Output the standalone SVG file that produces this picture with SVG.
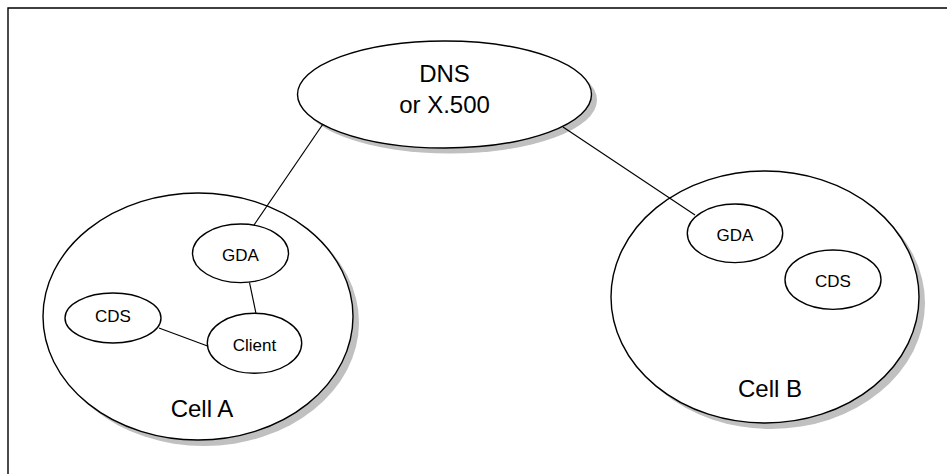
<svg xmlns="http://www.w3.org/2000/svg" width="947" height="474" viewBox="0 0 947 474">
<style>
.shadow{fill:#c0c0c0;stroke:none}
.big{fill:#fff;stroke:#000;stroke-width:1.4}
.small{fill:#fff;stroke:#000;stroke-width:1.4}
.conn{stroke:#000;stroke-width:1.2;fill:none}
text{font-family:"Liberation Sans",Arial,sans-serif;fill:#000;text-anchor:middle}
.lg{font-size:24px}
.sm{font-size:17px}
</style>
<rect width="947" height="474" fill="#fff"/>
<g id="frame">
<path d="M8,474 V8 H947" fill="none" stroke="#000" stroke-width="1.4"/>
</g>
<g id="dns">
<ellipse class="shadow" cx="450" cy="100" rx="147" ry="53.5"/>
<ellipse class="big" cx="444.5" cy="94.5" rx="147" ry="53.5"/>
<text class="lg" x="444.5" y="82">DNS</text>
<text class="lg" x="444.5" y="113">or X.500</text>
</g>
<g id="cellA">
<ellipse class="shadow" cx="204" cy="322.5" rx="155" ry="123.5"/>
<ellipse class="big" cx="198" cy="316.5" rx="155" ry="123.5"/>
<text class="lg" x="202" y="417">Cell A</text>
</g>
<g id="cellB">
<ellipse class="shadow" cx="771" cy="303" rx="154" ry="126"/>
<ellipse class="big" cx="765" cy="297" rx="154" ry="126"/>
<text class="lg" x="770" y="397">Cell B</text>
</g>
<g id="connectors">
<line class="conn" x1="323" y1="124" x2="254" y2="225"/>
<line class="conn" x1="563" y1="127" x2="695" y2="215"/>
<line class="conn" x1="249.5" y1="282.5" x2="256" y2="313.5"/>
<line class="conn" x1="159" y1="328" x2="207.5" y2="346"/>
</g>
<g id="gdaA">
<ellipse class="small" cx="240.5" cy="253.3" rx="48" ry="29.3"/>
<text class="sm" x="240.5" y="260.5">GDA</text>
</g>
<g id="cdsA">
<ellipse class="small" cx="113" cy="318" rx="48" ry="25"/>
<text class="sm" x="113" y="322">CDS</text>
</g>
<g id="client">
<ellipse class="small" cx="254.5" cy="343.3" rx="47.2" ry="30"/>
<text class="sm" x="254.5" y="350.5">Client</text>
</g>
<g id="gdaB">
<ellipse class="small" cx="735" cy="233.3" rx="47.7" ry="29.3"/>
<text class="sm" x="735" y="240.5">GDA</text>
</g>
<g id="cdsB">
<ellipse class="small" cx="833" cy="279.7" rx="48" ry="29.7"/>
<text class="sm" x="833" y="287">CDS</text>
</g>
</svg>
